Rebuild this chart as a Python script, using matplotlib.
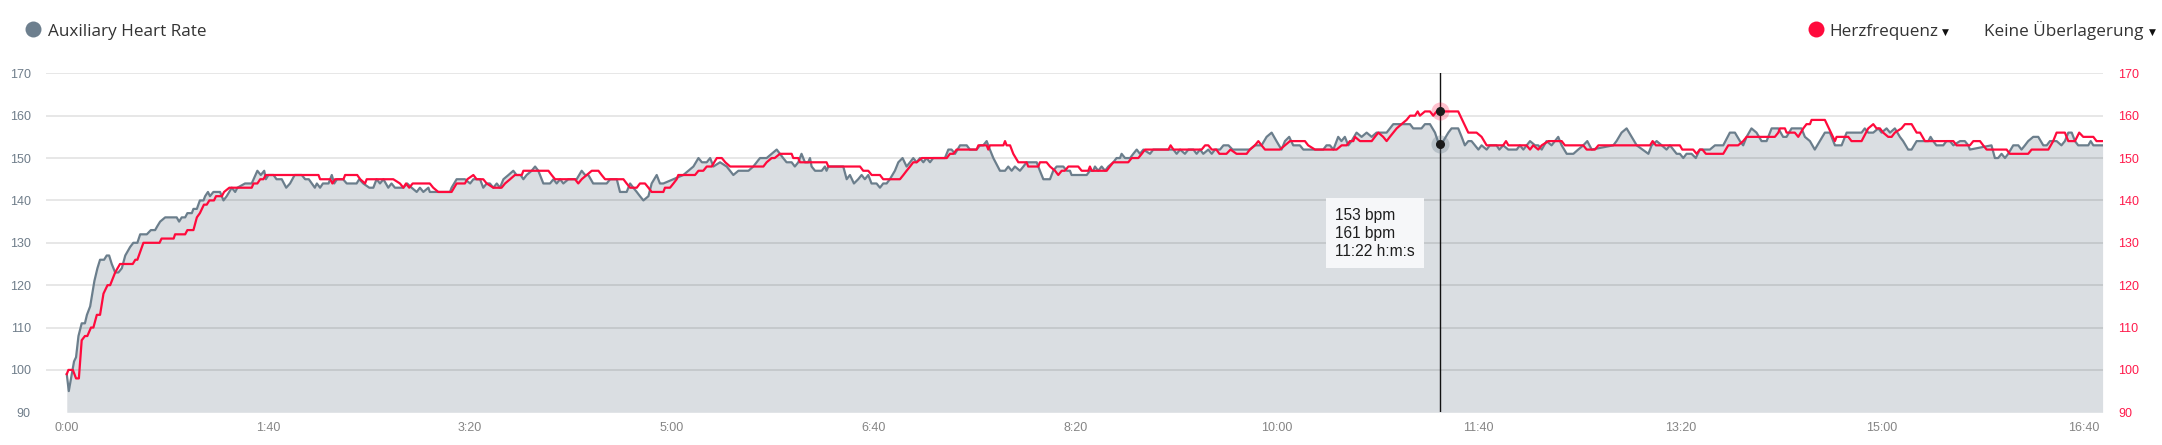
import numpy as np
import matplotlib
matplotlib.use("Agg")
import matplotlib.pyplot as plt
from matplotlib.ticker import FuncFormatter

# Auxiliary heart rate (grey, filled) - time in seconds, bpm
aux_t = [0, 1, 3.6, 4.6, 5.8, 7.4, 9, 10, 11.6, 13.7, 15.2, 16.5, 18.5, 19.8, 21, 22.3, 24, 25.6, 27.3, 29,
         31.4, 33, 35, 36.4, 39.7, 41.7, 43.8, 45, 46.3, 48.8, 54.5, 55.7, 57, 58.7, 59.8, 62, 62.8, 64.5, 66, 67.8,
         68.6, 70, 71, 72.7, 76, 77.7, 79.3, 81.8, 83.5, 84.6, 88.4, 91.7, 94.5, 96.2, 97.9, 98.7, 100, 102.5, 104, 106.6,
         108.8, 110.7, 113, 116.5, 118.2, 120, 121.5, 123, 124, 125.6, 127, 129.8, 131.4, 132.6, 134, 137, 138.8, 143.7, 145, 147,
         150, 152, 153.6, 155.3, 157, 159.4, 161, 162.7, 166.9, 168.8, 171, 173.5, 175.1, 176.8, 179.3, 180, 190, 190.8, 193.3, 197.4,
         200, 201.6, 204.9, 206.5, 208.2, 209.8, 211.5, 213.2, 214.8, 216.5, 219, 221.4, 223, 225, 226.4, 228, 230.5, 232.2, 233.8, 236.3,
         239.6, 241.3, 242.9, 244.6, 246.2, 248.7, 252.8, 255.3, 257, 258.6, 261, 267.7, 269.4, 272.7, 274.3, 277.6, 279.3, 280.9, 282.6, 284.2,
         285.9, 288.4, 290, 292.5, 294.1, 295.8, 300.8, 305.7, 308.2, 310.7, 313.2, 314.9, 317.3, 319, 320.6, 323.9, 327.2, 330.5, 333, 335.5,
         338, 340.4, 343.7, 347, 349.5, 352, 353.6, 355.2, 356.9, 359.4, 361, 362.7, 364.3, 366, 367.6, 368.5, 369.3, 371, 374.3, 375.9,
         376.7, 377.6, 385, 386.7, 388.3, 390.3, 392.4, 394.1, 395.7, 397.4, 399, 401.5, 403.2, 404.8, 406.5, 408.1, 410.6, 412.3, 414.4, 416.4,
         418.1, 419.7, 421.4, 423, 424.7, 426.3, 428, 429.6, 435.4, 437.1, 438.7, 440.4, 442.9, 446.2, 447.8, 451.1, 452.8, 454.4, 456.1, 457.7,
         459.4, 462.7, 465.2, 466.8, 468.5, 470.1, 472.6, 474.3, 475.9, 480.9, 482.5, 484.2, 487.5, 489.1, 490.8, 494.1, 495.8, 497.4, 498.2, 505.7,
         507.3, 508.9, 509.8, 511.4, 513.1, 514.8, 516.4, 518.9, 520.5, 522.2, 523, 524.7, 527.2, 528.8, 530.5, 532.1, 533.8, 537.1, 538.7, 548.7,
         550.3, 552, 554.4, 556.1, 558.6, 560.2, 561.9, 563.5, 566, 567.7, 569.3, 571.8, 573.5, 576, 578, 586.6, 589.1, 592.4, 594.9, 597.4,
         599.8, 602.3, 604, 606.1, 608.1, 611.4, 613.1, 623, 624.6, 626.3, 628, 630.4, 632, 633.7, 635.4, 637, 639.5, 642, 644.5, 647,
         649.4, 654.4, 657.7, 666, 667.6, 671.7, 673.4, 675.9, 678.4, 680.5, 682.5, 685, 686.6, 689.9, 691.6, 693.2, 694.9, 696.5, 699.9, 701.5,
         704, 705.6, 708.9, 710.3, 712.2, 714.7, 718.9, 720.5, 722.2, 725.5, 728, 729.6, 731.3, 733.7, 736.2, 739.5, 741.2, 743.7, 747, 749.4,
         751.9, 753.9, 756.1, 766.8, 768.4, 770.9, 773.4, 775.9, 778.4, 784.2, 785.8, 788.3, 790.8, 793.2, 794.9, 798.2, 799.8, 801.5, 803.1, 805.6,
         807.7, 809.7, 814.7, 817.2, 821.3, 824.6, 827.1, 829.6, 831.2, 832.9, 835.3, 837.8, 840.3, 842.8, 845.3, 848.6, 851, 852.7, 855.2, 860.1,
         861.8, 864.3, 866.7, 869.2, 871.7, 874.2, 876.7, 880, 882.5, 889.9, 891.5, 893.2, 895.7, 898.2, 899.8, 902.3, 904, 906.4, 908.9, 910.5,
         913, 914.7, 917.2, 923, 924.1, 925.4, 927, 930.4, 932, 933.7, 935.4, 938.7, 941.1, 942.8, 943.6, 954.3, 956, 957.6, 959.3, 961,
         962.6, 965.1, 967.6, 969.2, 970.9, 972.5, 975, 977.5, 980, 981.7, 983.3, 986.6, 989, 990.7, 992.4, 994.1, 995.7, 997.3, 1002.3, 1003.5,
         1004.8, 1009.4]
aux_v = [99, 95, 102, 103, 108, 111, 111, 113, 115, 121, 124, 126, 126, 127, 127, 125, 123, 123, 124, 127,
         129, 130, 130, 132, 132, 133, 133, 134, 135, 136, 136, 135, 136, 136, 137, 137, 138, 138, 140, 140,
         141, 142, 141, 142, 142, 140, 141, 143, 142, 143, 144, 144, 147, 146, 147, 145, 146, 146, 145, 145,
         143, 144, 146, 146, 145, 145, 144, 143, 144, 143, 144, 144, 146, 144, 145, 145, 144, 144, 145, 144,
         143, 143, 145, 144, 145, 143, 144, 143, 143, 144, 143, 142, 143, 142, 143, 142, 142, 143, 145, 145,
         144, 145, 145, 143, 144, 144, 143, 144, 143, 145, 146, 147, 146, 146, 145, 146, 147, 148, 147, 144,
         144, 145, 144, 145, 144, 145, 145, 147, 146, 146, 144, 144, 145, 145, 142, 142, 144, 143, 142, 141,
         140, 141, 144, 146, 144, 144, 145, 146, 147, 148, 150, 149, 149, 150, 148, 149, 148, 146, 147, 147,
         147, 148, 150, 150, 151, 152, 151, 150, 149, 149, 148, 149, 151, 149, 149, 150, 148, 147, 147, 148,
         147, 148, 148, 145, 146, 144, 145, 146, 145, 146, 144, 144, 143, 144, 144, 145, 147, 149, 150, 148,
         149, 150, 149, 150, 149, 150, 149, 150, 150, 152, 152, 151, 153, 153, 152, 152, 153, 153, 154, 152,
         150, 147, 147, 148, 147, 148, 147, 148, 149, 149, 147, 145, 145, 147, 148, 148, 147, 147, 146, 146,
         147, 147, 148, 147, 148, 147, 148, 149, 150, 150, 151, 150, 150, 151, 152, 151, 152, 151, 152, 152,
         151, 152, 151, 152, 152, 151, 152, 151, 152, 151, 152, 152, 153, 153, 152, 152, 153, 153, 155, 156,
         154, 152, 154, 155, 153, 153, 152, 152, 153, 153, 152, 155, 154, 155, 153, 154, 156, 155, 156, 155,
         156, 156, 158, 158, 157, 157, 158, 158, 156, 153, 154, 156, 157, 157, 155, 153, 154, 154, 152, 153,
         152, 153, 153, 152, 153, 152, 152, 153, 152, 154, 153, 153, 152, 154, 153, 155, 153, 151, 151, 152,
         153, 154, 152, 153, 154, 156, 157, 155, 153, 151, 153, 154, 153, 152, 153, 151, 151, 150, 151, 151,
         150, 152, 152, 153, 153, 156, 156, 154, 153, 155, 157, 156, 154, 154, 157, 157, 155, 155, 157, 157,
         155, 154, 152, 154, 156, 156, 153, 153, 156, 156, 157, 156, 156, 157, 156, 157, 156, 157, 155, 154,
         152, 152, 154, 154, 155, 154, 153, 153, 154, 154, 153, 154, 154, 153, 152, 153, 150, 150, 151, 150,
         151, 153, 153, 152, 153, 154, 155, 155, 153, 153, 154, 154, 153, 154, 156, 156, 154, 153, 153, 154,
         153, 153]

# Herzfrequenz (red line)
hr_t = [0, 0.8, 3, 4.6, 6, 7.4, 9, 10.2, 12, 13.2, 14.9, 16.5, 18.2, 20.2, 21.5, 24, 26.4, 32.7, 34, 35,
        38, 46, 47, 53, 53.7, 58.7, 59.8, 62.8, 64.5, 66, 68, 69.4, 70.7, 73, 74, 76.9, 78, 80.6, 91.7, 92.6,
        94.5, 95.9, 97.5, 98.7, 124.8, 125.6, 130.6, 131.7, 133, 137.2, 138, 144, 145.5, 147.9, 148.7, 161.9, 165.2, 166.9, 168.2, 169.8,
        171.5, 180, 181.7, 184.2, 190.8, 193.3, 197.4, 198.6, 201.6, 203.2, 206.5, 208.2, 211.5, 215.6, 217.3, 219.8, 222.2, 225.6, 226.4, 238.8,
        240.4, 242.1, 252, 253.6, 255.3, 257.8, 260.3, 263.6, 265.2, 266.9, 276, 277.6, 279.3, 282.6, 284.2, 286.7, 288.4, 290, 295.8, 296.6,
        299.1, 300.8, 302.4, 303.2, 311.5, 313.2, 315.6, 317.3, 319.8, 321, 322.3, 324.8, 326.5, 328.9, 345.4, 347, 349.5, 351, 353.6, 359.4,
        360.2, 362.7, 363.5, 376.7, 377.6, 393.3, 394.9, 397.4, 399.1, 403.2, 404.8, 413.1, 414.8, 416.4, 418.1, 419.7, 421.4, 423.9, 436.3, 437.9,
        439.6, 441.2, 451.1, 452, 456.1, 456.9, 457.7, 464.4, 465.2, 466, 467.7, 469.3, 471.8, 475.9, 476.7, 481.7, 482.5, 485.8, 487.5, 490,
        491.6, 493.3, 494.9, 496.6, 501.5, 503.2, 506.5, 507.3, 508.2, 515.6, 517.2, 518.9, 526.3, 528, 531.3, 533, 534.6, 546.2, 547.3, 548.7,
        562.7, 564.4, 566, 567.7, 570, 571.5, 575, 577, 580, 585, 586.6, 589.1, 590.8, 592.4, 594.1, 601.5, 604, 606.5, 613.9, 615.5,
        618.9, 629.6, 632.1, 634.6, 636.2, 637.9, 638.7, 641.2, 647, 648.6, 650.3, 652.7, 654.4, 656, 659.4, 661.8, 664.3, 666, 668.5, 669.8,
        670.9, 673.4, 675.9, 677.5, 679.2, 689.9, 694.9, 699, 701.5, 704, 712.2, 713.6, 714.8, 723.8, 725.5, 727.1, 729.6, 731.3, 734.6, 741.2,
        742.8, 751.9, 753.6, 757.7, 759.4, 785, 786.3, 787.9, 799.8, 801, 806.4, 808.1, 809.7, 811, 812.7, 821.3, 823.8, 828.7, 831.2, 832.9,
        846.9, 848.6, 849.4, 851.9, 852.7, 856.8, 858.5, 861, 862.6, 864.3, 865.1, 871.7, 876.7, 877.5, 883.3, 884.9, 889.9, 893.2, 895.7, 897.3,
        899, 900.6, 903.1, 904.8, 906.4, 909.7, 911.4, 914.7, 917.2, 918.9, 921.3, 935.4, 937, 943.6, 945.3, 948.6, 950.2, 951.9, 961.8, 963.4,
        972.5, 974.2, 982.5, 984.9, 986.6, 990.7, 992.4, 995.7, 997.8, 999.8, 1004.8, 1006.4, 1009.4]
hr_v = [99, 100, 100, 98, 98, 107, 108, 108, 110, 110, 113, 113, 118, 120, 120, 123, 125, 125, 126, 126,
        130, 130, 131, 131, 132, 132, 133, 133, 136, 137, 139, 139, 140, 140, 141, 141, 142, 143, 143, 144,
        144, 145, 145, 146, 146, 145, 145, 144, 145, 145, 146, 146, 145, 144, 145, 145, 144, 143, 144, 143,
        144, 144, 143, 142, 142, 144, 144, 145, 146, 145, 145, 144, 143, 143, 144, 145, 146, 146, 147, 147,
        146, 145, 145, 144, 145, 146, 147, 147, 146, 145, 145, 144, 143, 143, 144, 144, 143, 142, 142, 143,
        143, 144, 145, 146, 146, 147, 147, 148, 148, 149, 150, 150, 149, 148, 148, 149, 150, 150, 151, 151,
        150, 150, 149, 149, 148, 148, 147, 147, 146, 146, 145, 145, 146, 147, 148, 149, 149, 150, 150, 151,
        151, 152, 152, 153, 153, 152, 153, 153, 154, 153, 153, 151, 149, 149, 148, 148, 149, 149, 148, 147,
        146, 147, 147, 148, 148, 147, 147, 148, 147, 147, 148, 149, 149, 150, 150, 151, 152, 152, 153, 152,
        152, 153, 153, 152, 152, 151, 151, 152, 151, 151, 152, 153, 154, 153, 152, 152, 153, 154, 154, 153,
        152, 152, 153, 153, 154, 154, 155, 154, 154, 155, 156, 155, 154, 155, 157, 158, 159, 160, 160, 161,
        160, 161, 161, 160, 161, 161, 156, 156, 155, 153, 153, 154, 153, 153, 152, 153, 152, 153, 154, 154,
        153, 153, 152, 152, 153, 153, 154, 153, 153, 152, 152, 151, 152, 152, 151, 151, 153, 153, 154, 155,
        155, 156, 157, 157, 156, 156, 155, 157, 158, 158, 159, 159, 154, 155, 155, 154, 154, 157, 158, 157,
        157, 156, 155, 155, 156, 157, 158, 158, 156, 156, 154, 154, 153, 153, 154, 154, 153, 152, 152, 151,
        151, 152, 152, 154, 156, 156, 154, 154, 156, 155, 155, 154, 154]

y_ticks = [90, 100, 110, 120, 130, 140, 150, 160, 170]
x_ticks = [0, 100, 200, 300, 400, 500, 600, 700, 800, 900, 1000]

cursor_t = 681
tooltip_lines = ["153 bpm", "161 bpm", "11:22 h:m:s"]

GREY = "#6b7e8c"
FILL = "#dadee2"
RED = "#ff0a3c"

W, H = 2162, 445
fig = plt.figure(figsize=(W / 100, H / 100), dpi=100)

# plot area in pixels: x 46..2103, y 73.3..412.3
ax = fig.add_axes([46 / W, 1 - 412.3 / H, (2103 - 46) / W, (412.3 - 73.3) / H])
ax.set_xlim(-10.3, 1009.6)
ax.set_ylim(90, 170)

ax.fill_between(aux_t, aux_v, 90, color=FILL, lw=0, zorder=1)
for y in y_ticks[1:]:
    ax.axhline(y, color=(0, 0, 0, 0.12), lw=1.1, zorder=2)
ax.plot(aux_t, aux_v, color=GREY, lw=1.6, zorder=3, solid_joinstyle="round")
ax.plot(hr_t, hr_v, color=RED, lw=1.6, zorder=4, solid_joinstyle="round")

# crosshair + hover markers
ax.axvline(cursor_t, color="#111111", lw=1.0, zorder=5)
hr_c = np.interp(cursor_t, hr_t, hr_v)
aux_c = np.interp(cursor_t, aux_t, aux_v)
ax.plot([cursor_t], [hr_c], "o", ms=13, color=RED, alpha=0.25, mec="none", zorder=6)
ax.plot([cursor_t], [aux_c], "o", ms=13, color=GREY, alpha=0.3, mec="none", zorder=6)
ax.plot([cursor_t, cursor_t], [hr_c, aux_c], "o", ms=5.5, color="#1a1a1a", lw=0, zorder=7)

for s in ax.spines.values():
    s.set_visible(False)
ax.set_yticks(y_ticks)
ax.tick_params(axis="y", length=0, pad=11, labelsize=9, labelcolor="#6f7d8a")
ax.set_xticks(x_ticks)
ax.xaxis.set_major_formatter(FuncFormatter(lambda t, p: "%d:%02d" % (t // 60, t % 60)))
ax.tick_params(axis="x", length=0, pad=7, labelsize=9, labelcolor="#858585")
for lab in ax.get_xticklabels() + ax.get_yticklabels():
    lab.set_family("Liberation Sans")

ax2 = ax.twinx()
ax2.set_ylim(90, 170)
ax2.set_yticks(y_ticks)
ax2.tick_params(axis="y", length=0, pad=11, labelsize=9, labelcolor="#ff1a4b")
for s in ax2.spines.values():
    s.set_visible(False)
for lab in ax2.get_yticklabels():
    lab.set_family("Liberation Sans")

# overlay in pixel coordinates for header and tooltip
ov = fig.add_axes([0, 0, 1, 1], facecolor="none")
ov.set_xlim(0, W)
ov.set_ylim(H, 0)
ov.axis("off")

fam = ["Open Sans", "DejaVu Sans"]
ov.plot([33], [29], "o", ms=11.5, color="#6d7f8e", mec="none")
ov.text(47.5, 36, "Auxiliary Heart Rate", fontsize=12.3, family=fam, color="#333333", va="baseline")
ov.plot([1816], [29], "o", ms=11.5, color=RED, mec="none")
ov.text(1829, 36, "Herzfrequenz", fontsize=12.3, family=fam, color="#333333", va="baseline")
ov.text(1942, 34.5, "\u25BC", fontsize=6.5, family="DejaVu Sans", color="#111111", va="baseline")
ov.text(1984, 36, "Keine \u00dcberlagerung", fontsize=12.3, family=fam, color="#333333", va="baseline")
ov.text(2149, 34.5, "\u25BC", fontsize=6.5, family="DejaVu Sans", color="#111111", va="baseline")

# tooltip box
ov.add_patch(plt.Rectangle((1326, 198), 98, 69.7, facecolor="#f6f7f9", edgecolor="none", zorder=8))
for i, line in enumerate(tooltip_lines):
    ov.text(1335, 220 + i * 17.8, line, fontsize=11.2, family="Liberation Sans", color="#1e1e1e",
            va="baseline", zorder=9)

fig.savefig("out.png", dpi=100)
